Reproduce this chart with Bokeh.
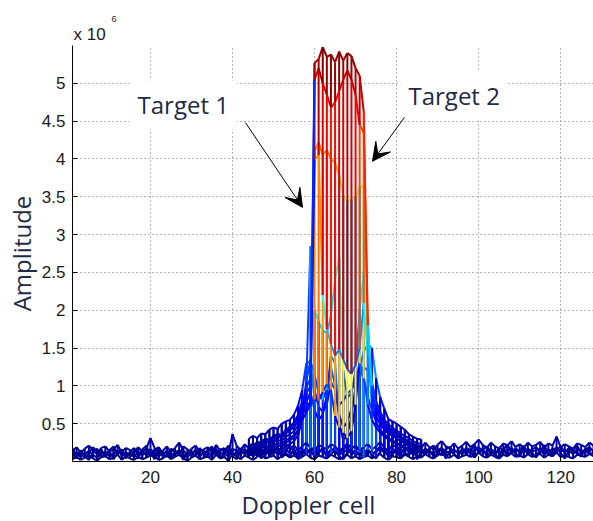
import math
from bokeh.plotting import figure
from bokeh.models import FixedTicker, Label, Arrow, VeeHead, CustomJSTickFormatter, Title
from bokeh.embed import file_html
from bokeh.resources import INLINE

# ---------------- data (amplitude in units of 1e6) ----------------
doppler_cells = list(range(1, 129))
window_cells = list(range(44, 87))

# noise-floor rows, units of 0.01 x 1e6
noise_a = [14, 19, 11, 17, 21, 15, 9, 18, 20, 13, 16, 22, 12, 18, 15, 11,
           19, 13, 17, 31, 18, 10, 14, 20, 12, 18, 25, 15, 9, 17, 21, 13,
           16, 19, 11, 22, 14, 18, 10, 36, 21, 15, 23, 17, 12, 20, 26, 16,
           18, 22, 14, 19, 24, 17, 21, 15, 20, 25, 18, 13, 22, 19, 16, 23,
           20, 14, 18, 24, 17, 21, 15, 19, 23, 16, 20, 26, 18, 14, 22, 19,
           17, 24, 20, 15, 21, 18, 25, 19, 16, 22, 27, 20, 18, 24, 17, 21,
           26, 19, 23, 29, 22, 18, 25, 20, 17, 24, 21, 27, 19, 23, 18, 25,
           20, 22, 26, 18, 24, 21, 33, 19, 23, 20, 17, 24, 22, 19, 25, 21]
noise_b = [8, 12, 6, 10, 14, 9, 5, 11, 13, 7, 10, 15, 8, 12, 9, 6,
           13, 9, 11, 16, 12, 7, 10, 14, 8, 12, 15, 10, 6, 11, 14, 9,
           12, 13, 7, 15, 10, 12, 6, 17, 14, 9, 16, 11, 8, 13, 15, 10,
           12, 15, 9, 13, 16, 11, 14, 10, 13, 17, 12, 9, 15, 13, 10, 16,
           13, 9, 12, 16, 11, 14, 10, 13, 15, 11, 13, 17, 12, 9, 14, 13,
           11, 16, 13, 10, 14, 12, 17, 13, 11, 15, 18, 13, 12, 16, 11, 14,
           17, 13, 15, 19, 14, 12, 16, 13, 11, 16, 14, 18, 13, 15, 12, 17,
           13, 15, 17, 12, 16, 14, 19, 13, 15, 13, 11, 16, 15, 13, 17, 14]
noise_c = [3, 6, 2, 5, 8, 4, 1, 6, 7, 3, 5, 9, 2, 7, 4, 2,
           6, 3, 5, 8, 7, 2, 4, 8, 3, 6, 9, 4, 1, 5, 8, 3,
           5, 7, 2, 9, 4, 6, 1, 10, 7, 3, 8, 5, 2, 6, 9, 4,
           6, 8, 3, 7, 9, 5, 8, 4, 6, 10, 5, 3, 8, 6, 4, 9,
           6, 3, 5, 9, 4, 7, 3, 6, 8, 4, 7, 10, 5, 2, 7, 6,
           4, 9, 6, 3, 7, 5, 10, 6, 4, 8, 11, 6, 5, 9, 4, 7,
           9, 6, 8, 12, 7, 5, 9, 6, 4, 9, 7, 11, 6, 8, 5, 10,
           6, 8, 10, 5, 9, 7, 12, 6, 8, 6, 4, 9, 8, 6, 10, 7]
noise_d = [17, 8, 14, 5, 11, 19, 13, 16, 6, 15, 20, 10, 14, 4, 13, 18,
           9, 16, 21, 7, 15, 19, 11, 6, 17, 13, 8, 20, 16, 12, 7, 18,
           11, 15, 20, 8, 17, 13, 21, 9, 12, 18, 14, 7, 19, 16, 10, 15,
           20, 11, 17, 8, 14, 21, 12, 18, 9, 16, 13, 20, 11, 17, 8, 14,
           19, 12, 16, 21, 9, 15, 18, 11, 17, 7, 14, 20, 13, 16, 10, 19,
           12, 18, 15, 9, 20, 14, 11, 17, 21, 13, 8, 16, 19, 12, 15, 10,
           18, 14, 22, 11, 16, 20, 13, 9, 19, 15, 23, 12, 17, 14, 21, 11,
           16, 19, 13, 22, 10, 17, 15, 20, 12, 18, 14, 21, 11, 16, 19, 13]
noise_e = [11, 4, 15, 7, 2, 13, 17, 5, 10, 14, 3, 12, 16, 6, 11, 9,
           4, 15, 8, 12, 3, 16, 9, 13, 5, 10, 14, 2, 12, 8, 16, 6,
           13, 5, 9, 17, 4, 11, 15, 7, 3, 14, 10, 18, 6, 12, 4, 16,
           8, 13, 17, 5, 11, 7, 15, 3, 14, 9, 16, 6, 12, 18, 5, 10,
           14, 7, 3, 12, 16, 8, 11, 5, 15, 9, 4, 13, 17, 6, 10, 14,
           5, 12, 8, 16, 3, 13, 9, 15, 7, 11, 17, 4, 14, 10, 6, 18,
           9, 15, 5, 12, 17, 7, 13, 10, 4, 16, 8, 14, 11, 6, 19, 9,
           12, 5, 16, 9, 13, 7, 18, 11, 4, 15, 10, 13, 6, 17, 9, 12]

# target range rows over Doppler cells 44..86
top_row_a = [.18, .22, .20, .25, .27, .24, .30, .33, .31, .38,
             .42, .45, .55, .70, .80, .90, 5.27, 5.32, 5.48, 5.35,
             5.38, 5.28, 5.42, 5.30, 5.40, 5.36, 5.20, 5.10, 4.62, 1.80,
             1.00, .75, .60, .52, .45, .42, .38, .33, .30, .27,
             .24, .22, .20]
top_row_b = [.15, .18, .17, .21, .22, .20, .26, .28, .27, .33,
             .36, .40, .48, .62, .70, .80, 5.05, 5.20, 5.00, 4.85,
             4.68, 4.75, 4.90, 5.05, 5.17, 5.05, 4.85, 4.45, 4.35, 1.60,
             .90, .68, .55, .47, .41, .38, .34, .30, .27, .24,
             .21, .19, .17]
red_v_row = [.12, .15, .14, .18, .19, .17, .22, .24, .23, .28,
             .31, .35, .42, .55, .65, .75, 4.00, 4.05, 2.20, 1.75,
             1.55, 1.40, 1.48, 1.35, 1.22, 1.16, 1.28, 1.50, 2.10, 1.40,
             .80, .60, .50, .42, .37, .34, .30, .27, .24, .21,
             .19, .17, .15]
mid_row = [.20, .24, .22, .27, .30, .28, .34, .36, .35, .42,
           .46, .52, .62, .80, .90, 1.00, 4.10, 4.22, 4.05, 4.12,
           4.00, 3.95, 3.78, 3.52, 3.45, 3.46, 3.50, 3.62, 3.65, 1.45,
           .95, .72, .60, .50, .44, .40, .36, .32, .29, .26,
           .23, .21, .19]
low_v_row = [.10, .13, .12, .15, .16, .14, .19, .21, .20, .25,
             .28, .32, .40, .60, 1.05, 1.35, .82, .80, .92, 1.02,
             .95, .60, .45, .38, .31, .40, .75, 1.30, 1.10, .75,
             .55, .45, .38, .33, .29, .26, .23, .20, .18, .16,
             .14, .13, .12]
side_row = [.08, .10, .09, .12, .13, .11, .15, .17, .16, .20,
            .23, .27, .35, .55, 1.05, 2.85, 2.00, 1.85, 1.73, 1.70,
            1.92, 2.40, 2.70, 1.20, .85, .90, 1.20, 2.00, 2.50, 1.90,
            .70, .52, .42, .36, .31, .28, .25, .22, .19, .17,
            .15, .14, .13]
skirt_a = [.30, .34, .31, .37, .36, .42, .45, .43, .50, .53,
           .55, .62, .74, .95, 1.30, 1.33, 1.15, .90, .82, .95,
           1.25, 1.00, .75, .80, .90, .95, 1.05, 1.25, 1.45, 1.55,
           1.50, 1.10, .85, .70, .56, .53, .50, .46, .42, .36,
           .33, .30, .29]
skirt_c = [.22, .20, .26, .24, .30, .28, .33, .36, .34, .40,
           .44, .50, .58, .72, .98, 1.10, .95, .72, .66, .75,
           1.05, .95, .62, .45, .52, .70, .88, 1.10, 1.25, 1.20,
           1.05, .80, .66, .55, .49, .45, .41, .37, .34, .31,
           .27, .25, .23]
skirt_b = [.16, .19, .21, .23, .26, .24, .29, .31, .34, .37,
           .41, .46, .53, .64, .78, .92, .68, .55, .62, .88,
           1.40, 1.30, .50, .28, .35, .60, 1.00, 1.33, 1.10, .85,
           .68, .57, .50, .44, .39, .36, .34, .31, .28, .26,
           .23, .21, .20]

x_ticks = [20, 40, 60, 80, 100, 120]
y_ticks = [0.5, 1, 1.5, 2, 2.5, 3, 3.5, 4, 4.5, 5]


def full_row(arr):
    return dict(zip(doppler_cells, [v / 100 for v in arr]))


def win_row(arr):
    return dict(zip(window_cells, arr))


rows = [win_row(top_row_a), win_row(top_row_b), win_row(red_v_row),
        win_row(mid_row), win_row(low_v_row), win_row(side_row),
        win_row(skirt_a), full_row(noise_a), win_row(skirt_c), full_row(noise_e),
        win_row(skirt_b), full_row(noise_b), full_row(noise_c), full_row(noise_d)]

all_vals = [v for r in rows for v in r.values()]
vmin, vmax = min(all_vals), max(all_vals)


def jet(v):
    t = (v - vmin) / (vmax - vmin)
    def ch(c):
        return int(round(255 * min(max(1.5 - abs(4 * t - c), 0.0), 1.0)))
    return "#%02x%02x%02x" % (ch(3), ch(2), ch(1))


# mesh edges coloured by their first vertex; painted from the far row to the near row
x0, y0, x1, y1, col = [], [], [], [], []
for i in reversed(range(len(rows))):
    r = rows[i]
    cells = sorted(r)
    for c0, c1 in zip(cells, cells[1:]):
        x0.append(c0); y0.append(r[c0]); x1.append(c1); y1.append(r[c1]); col.append(jet(r[c0]))
    for c in cells:
        nxt = [rows[j][c] for j in range(i + 1, len(rows)) if c in rows[j]]
        if nxt:
            x0.append(c); y0.append(r[c]); x1.append(c); y1.append(nxt[0]); col.append(jet(r[c]))

# ---------------- figure ----------------
p = figure(width=593, height=521, x_range=(1, 128), y_range=(0, 5.5),
           output_backend="svg", toolbar_location=None,
           min_border_left=72, min_border_right=0, min_border_top=45, min_border_bottom=60)
p.outline_line_color = None
p.background_fill_color = "white"
p.border_fill_color = "white"

p.segment(x0=x0, y0=y0, x1=x1, y1=y1, line_color=col, line_width=2)

for ax in (p.xaxis, p.yaxis):
    ax.axis_line_color = "black"
    ax.major_tick_line_color = "black"
    ax.major_tick_in = 5
    ax.major_tick_out = 0
    ax.minor_tick_line_color = None
    ax.major_label_text_font = "Liberation Sans"
    ax.major_label_text_font_size = "17px"
    ax.major_label_text_color = "#1a1a1a"
p.xaxis.ticker = FixedTicker(ticks=x_ticks)
p.yaxis.ticker = FixedTicker(ticks=y_ticks)
p.yaxis.formatter = CustomJSTickFormatter(code="return tick.toString();")
p.xaxis.major_label_standoff = 9
p.yaxis.major_label_standoff = 7

label_color = "#1f2a44"
p.yaxis.axis_label = "Amplitude"
p.yaxis.axis_label_text_font = "Open Sans"
p.yaxis.axis_label_text_font_size = "24px"
p.yaxis.axis_label_text_font_style = "normal"
p.yaxis.axis_label_text_color = label_color
p.yaxis.axis_label_standoff = 1

for g in (p.xgrid, p.ygrid):
    g.grid_line_color = "#6e6e6e"
    g.grid_line_dash = "1 3"
    g.grid_line_width = 1
p.xgrid.ticker = FixedTicker(ticks=x_ticks)
p.ygrid.ticker = FixedTicker(ticks=y_ticks)

# exponent "x 10^6" above the axes (the added title sits nearest the frame)
p.title.text = "6"
p.title.align = "left"
p.title.offset = 39
p.title.standoff = 0
p.title.text_font = "Liberation Sans"
p.title.text_font_size = "9px"
p.title.text_font_style = "normal"
p.title.text_color = "#1a1a1a"
p.add_layout(Title(text="x 10", align="left", offset=1, standoff=3,
                   text_font="Liberation Sans", text_font_size="17px",
                   text_font_style="normal", text_color="#1a1a1a"), "above")

# x axis label, placed as in the reference
p.add_layout(Title(text="Doppler cell", align="left", offset=169, standoff=0,
                   text_font="Open Sans", text_font_size="24px",
                   text_font_style="normal", text_color=label_color), "below")

p.add_layout(Label(x=14.9, y=4.39, text="Target 1", text_font="Open Sans",
                   text_font_size="24px", text_color=label_color,
                   background_fill_color="white", padding=8))
p.add_layout(Label(x=80.95, y=4.51, text="Target 2", text_font="Open Sans",
                   text_font_size="24px", text_color=label_color,
                   background_fill_color="white", padding=8))
p.add_layout(Arrow(x_start=43.17, y_start=4.48, x_end=57.07, y_end=3.36,
                   line_color="black", line_width=1,
                   end=VeeHead(size=18, fill_color="black", line_color="black")))
p.add_layout(Arrow(x_start=81.93, y_start=4.55, x_end=74.13, y_end=3.97,
                   line_color="black", line_width=1,
                   end=VeeHead(size=18, fill_color="black", line_color="black")))

open("out.html", "w").write(file_html(p, INLINE))
